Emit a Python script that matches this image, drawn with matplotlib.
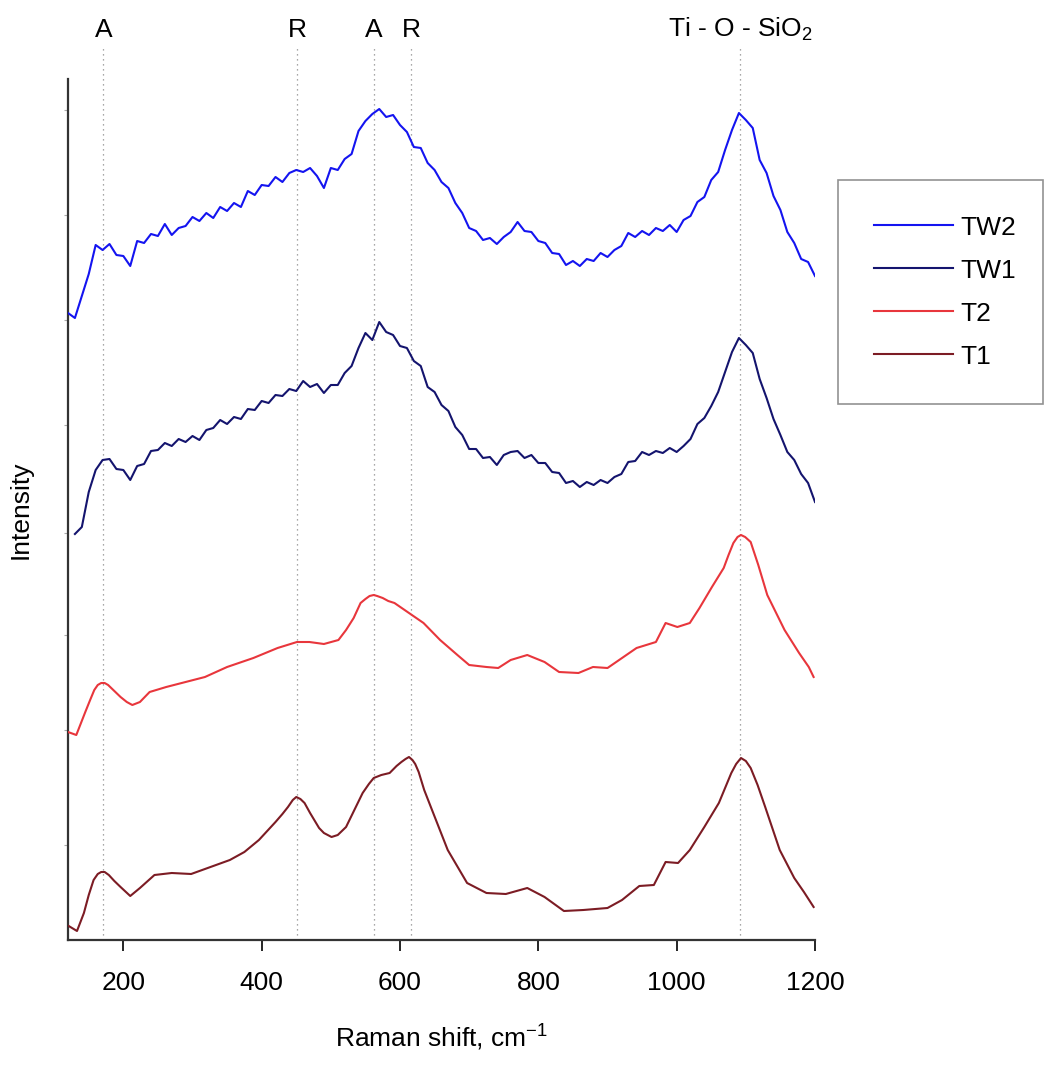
import matplotlib
matplotlib.use('Agg')
import matplotlib.pyplot as plt
import matplotlib.transforms as mtransforms

plt.rcParams['font.family'] = ['Liberation Sans', 'DejaVu Sans']
plt.rcParams['mathtext.fontset'] = 'custom'
plt.rcParams['mathtext.rm'] = 'Liberation Sans'
plt.rcParams['mathtext.it'] = 'Liberation Sans'

# Raman shift grid for the noisy TW spectra (cm-1)
shift_tw2 = list(range(120, 1201, 10))
shift_tw1 = list(range(130, 1201, 10))

tw2 = [627, 622, 644, 666, 695, 690, 696, 685, 684, 674, 699, 697, 706, 704, 716, 705,
       712, 714, 723, 719, 727, 722, 733, 729, 737, 733, 749, 745, 755, 754, 763, 758,
       767, 770, 768, 772, 764, 752, 772, 770, 781, 786, 809, 819, 826, 831, 823, 825,
       815, 808, 793, 792, 777, 770, 758, 752, 737, 727, 712, 709, 700, 702, 696, 703,
       708, 718, 709, 708, 699, 697, 687, 686, 675, 679, 674, 681, 679, 687, 683, 690,
       694, 707, 703, 709, 705, 712, 709, 715, 708, 720, 724, 738, 743, 760, 768, 790,
       810, 827, 820, 812, 780, 767, 744, 730, 708, 697, 681, 678, 664]

tw1 = [406, 413, 448, 470, 480, 481, 471, 470, 460, 474, 476, 489, 490, 497, 494, 501,
       498, 504, 500, 510, 512, 520, 516, 523, 521, 531, 530, 539, 537, 545, 544, 551,
       549, 559, 553, 556, 547, 555, 555, 567, 574, 592, 607, 600, 618, 608, 605, 594,
       592, 579, 574, 553, 548, 535, 529, 513, 505, 491, 491, 482, 483, 475, 485, 488,
       489, 482, 485, 477, 477, 468, 467, 457, 459, 453, 458, 455, 460, 457, 463, 466,
       478, 479, 488, 485, 489, 487, 492, 488, 494, 501, 516, 522, 534, 548, 568, 588,
       602, 595, 587, 561, 542, 521, 505, 488, 480, 466, 457, 438]

shift_t2 = [120, 132, 145, 152, 158, 163, 168, 173, 178, 187, 196, 205, 213, 224, 238,
            262, 290, 318, 350, 388, 423, 451, 469, 490, 511, 522, 533, 543, 550, 556,
            562, 567, 575, 583, 592, 613, 634, 658, 683, 700, 725, 742, 760, 784, 809,
            830, 858, 879, 900, 921, 942, 970, 984, 1001, 1019, 1033, 1051, 1068, 1075, 1082,
            1088, 1093, 1099, 1107, 1118, 1131, 1156, 1177, 1191, 1198]
t2 = [208, 205, 228, 240, 250, 255, 257, 257, 255, 249, 243, 238, 235, 238, 248,
      253, 258, 263, 273, 282, 292, 298, 298, 296, 300, 310, 322, 337, 341, 344,
      345, 344, 342, 339, 337, 327, 317, 300, 285, 275, 273, 272, 280, 285, 278,
      268, 267, 273, 272, 282, 292, 298, 317, 313, 317, 332, 353, 372, 385, 397,
      403, 405, 403, 398, 375, 345, 310, 287, 273, 263]

shift_t1 = [121, 133, 143, 150, 157, 163, 168, 173, 179, 187, 196, 210, 224, 245, 270,
            298, 326, 354, 375, 396, 420, 430, 438, 445, 450, 456, 462, 470, 483, 490,
            501, 510, 522, 534, 546, 555, 562, 573, 585, 595, 602, 608, 613, 618, 622,
            627, 635, 648, 669, 697, 725, 753, 784, 809, 837, 865, 900, 921, 946, 967,
            984, 1002, 1019, 1040, 1061, 1079, 1086, 1093, 1100, 1107, 1117, 1128, 1149, 1170, 1184,
            1198]
t1 = [14, 9, 27, 45, 60, 66, 68, 68, 65, 59, 53, 44, 52, 65, 67,
      66, 73, 80, 88, 100, 118, 126, 133, 140, 143, 141, 137, 127, 112, 107,
      103, 105, 113, 130, 147, 156, 162, 165, 167, 174, 178, 181, 183, 180, 176,
      168, 150, 127, 90, 57, 47, 46, 52, 43, 29, 30, 32, 40, 54, 55,
      78, 77, 90, 113, 137, 167, 176, 182, 179, 172, 155, 133, 90, 62, 48,
      33]

band_pos = [171, 451, 562, 616, 1092]
band_lbl = ['A', 'R', 'A', 'R', 'Ti - O - SiO$_2$']

fig = plt.figure(figsize=(10.46, 10.71), dpi=100)
ax = fig.add_axes([68 / 1046, 131 / 1071, (815 - 68) / 1046, (940 - 48) / 1071])

for xb in band_pos:
    ax.axvline(xb, color='#8a8a8a', ls=(0, (1, 3)), lw=0.9, zorder=1)

ax.plot(shift_tw2, tw2, color='#1414f0', lw=1.5, label='TW2', zorder=3)
ax.plot(shift_tw1, tw1, color='#14146e', lw=1.5, label='TW1', zorder=3)
ax.plot(shift_t2, t2, color='#e8363c', lw=1.5, label='T2', zorder=3)
ax.plot(shift_t1, t1, color='#7c1c24', lw=1.5, label='T1', zorder=3)

ax.set_xlim(120, 1200)
ax.set_ylim(0, 892)
ax.set_xticks([200, 400, 600, 800, 1000, 1200])
ax.set_yticks([95, 210, 305, 407, 515, 620, 725, 830])
ax.set_yticklabels([])
ax.tick_params(axis='x', direction='out', length=8, width=1.2, labelsize=19, pad=14)
ax.tick_params(axis='y', direction='out', length=3, width=0.8, color='#aaaaaa')

for s in ['top', 'right']:
    ax.spines[s].set_visible(False)
ax.spines['left'].set_bounds(0, 861)
for s in ['left', 'bottom']:
    ax.spines[s].set_linewidth(1.6)
    ax.spines[s].set_color('#333333')

trans = mtransforms.blended_transform_factory(ax.transData, ax.transAxes)
for xb, lbl in zip(band_pos, band_lbl):
    ax.text(xb, 1.012, lbl, transform=trans, ha='center', va='baseline', fontsize=19)

ax.set_xlabel('Raman shift, cm$^{-1}$', fontsize=19, labelpad=20)
ax.set_ylabel('Intensity', fontsize=19)
ax.yaxis.set_label_coords(-0.047, 430 / 892)

leg = fig.legend(loc='upper left', bbox_to_anchor=(838 / 1046, (1071 - 180) / 1071 - 0.01, 205 / 1046, 0.01),
                 mode='expand', fontsize=19, frameon=True, fancybox=False, borderpad=1.35,
                 labelspacing=0.72, handlelength=3.0, handletextpad=0.3, borderaxespad=0)
leg.get_frame().set_edgecolor('#777777')
leg.get_frame().set_linewidth(1.2)

fig.savefig('out.png', dpi=100)
